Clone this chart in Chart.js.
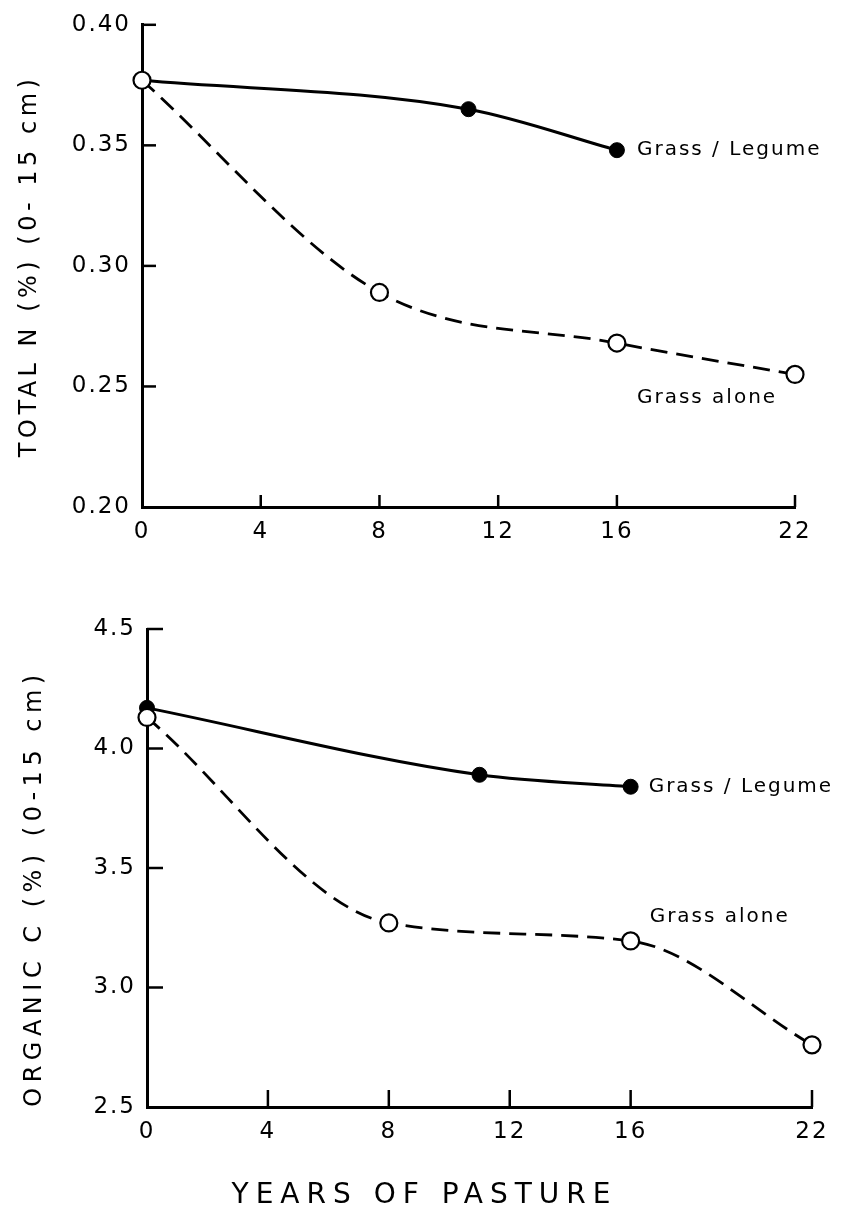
<!DOCTYPE html>
<html lang="en">
<head>
<meta charset="utf-8">
<title>Total N and organic C under pasture</title>
<script src="https://cdn.jsdelivr.net/npm/chart.js@4.4.0/dist/chart.umd.min.js"></script>
<style>
  html, body { margin: 0; padding: 0; background: #fff; }
  .panel { position: absolute; left: 0; width: 843px; }
  #top { top: 0; height: 575px; }
  #bottom { top: 575px; height: 650px; }
</style>
</head>
<body>
<div class="panel" id="top"><canvas id="nChart"></canvas></div>
<div class="panel" id="bottom"><canvas id="cChart"></canvas></div>
<script>
// years of pasture (x axis, both panels)
var xTicks = [0, 4, 8, 12, 16, 22];

// total N (%) in 0-15 cm
var legumeYearsN = [0, 11, 16];
var legumeN = [0.377, 0.365, 0.348];
var aloneYearsN = [0, 8, 16, 22];
var aloneN = [0.377, 0.289, 0.268, 0.255];
var nTicks = [0.20, 0.25, 0.30, 0.35, 0.40];

// organic C (%) in 0-15 cm
var legumeYearsC = [0, 11, 16];
var legumeC = [4.17, 3.89, 3.84];
var aloneYearsC = [0, 8, 16, 22];
var aloneC = [4.13, 3.27, 3.195, 2.76];
var cTicks = [2.5, 3.0, 3.5, 4.0, 4.5];

var aloneName = "Grass alone";
var legumeName = "Grass / Legume";
var xTitle = "YEARS OF PASTURE";
var nTitle = "TOTAL N (%) (0- 15 cm)";
var cTitle = "ORGANIC C (%) (0-15 cm)";

Chart.defaults.font.family = "'DejaVu Sans', sans-serif";
Chart.defaults.font.size = 23;
Chart.defaults.color = "#000";

function pts(xs, ys) {
    return xs.map(function (x, i) { return { x: x, y: ys[i] }; });
}

// inward ticks, rotated axis titles and the curve labels
var paperPlugin = {
    id: "paper",
    beforeDraw: function (chart) {
        chart.ctx.letterSpacing = "2px";
    },
    afterDraw: function (chart, args, opts) {
        var ctx = chart.ctx;
        var area = chart.chartArea;
        var xs = chart.scales.x, ys = chart.scales.y;
        ctx.save();
        ctx.strokeStyle = "#000";
        ctx.lineWidth = 2.5;
        xs.ticks.forEach(function (t, i) {
            if (i === 0) return;
            var px = xs.getPixelForValue(t.value);
            ctx.beginPath();
            ctx.moveTo(px, area.bottom);
            ctx.lineTo(px, area.bottom - opts.tickX);
            ctx.stroke();
        });
        ys.ticks.forEach(function (t, i) {
            if (i === 0) return;
            var py = ys.getPixelForValue(t.value);
            ctx.beginPath();
            ctx.moveTo(area.left, py);
            ctx.lineTo(area.left + opts.tickY, py);
            ctx.stroke();
        });

        ctx.fillStyle = "#000";
        ctx.textAlign = "center";
        ctx.textBaseline = "middle";
        ctx.font = "24px 'DejaVu Sans'";
        ctx.letterSpacing = opts.titleSpacing + "px";
        ctx.save();
        ctx.translate(opts.yTitleX, (area.top + area.bottom) / 2 + opts.yTitleDy);
        ctx.rotate(-Math.PI / 2);
        ctx.fillText(chart.options.scales.y.title.text, 0, 0);
        ctx.restore();
        if (chart.options.scales.x.title.text) {
            ctx.font = "28px 'DejaVu Sans'";
            ctx.letterSpacing = "7px";
            ctx.fillText(chart.options.scales.x.title.text, (area.left + area.right) / 2 + opts.xTitleDx, opts.xTitleY);
        }

        ctx.font = "20px 'DejaVu Sans'";
        ctx.letterSpacing = "2px";
        ctx.textAlign = "left";
        opts.labels.forEach(function (l) {
            var p = chart.getDatasetMeta(l.dataset).data[l.index];
            ctx.fillText(chart.data.datasets[l.dataset].label, p.x + l.dx, p.y + l.dy);
        });
        ctx.restore();
        ctx.letterSpacing = "0px";
    }
};

function makePanel(id, aloneData, legumeData, yTicks, digits, yTitle, xTitleText, box, paper) {
    return new Chart(document.getElementById(id), {
        type: "line",
        data: {
            datasets: [{
                label: aloneName,
                data: aloneData,
                borderColor: "#000",
                borderWidth: 2.8,
                borderDash: [17, 9],
                cubicInterpolationMode: "monotone",
                pointRadius: 8.5,
                pointBackgroundColor: "#fff",
                pointBorderColor: "#000",
                pointBorderWidth: 2.2,
                clip: false
            }, {
                label: legumeName,
                data: legumeData,
                borderColor: "#000",
                borderWidth: 3,
                cubicInterpolationMode: "monotone",
                pointRadius: 7.5,
                pointBackgroundColor: "#000",
                pointBorderColor: "#000",
                pointBorderWidth: 1,
                clip: false
            }]
        },
        options: {
            responsive: true,
            maintainAspectRatio: false,
            animation: false,
            layout: { padding: { left: 0, top: box.top, right: box.right, bottom: 0 } },
            plugins: {
                legend: { display: false },
                tooltip: { enabled: false },
                paper: paper
            },
            scales: {
                x: {
                    type: "linear",
                    min: 0,
                    max: 22,
                    grid: { display: false, drawTicks: false },
                    border: { display: true, color: "#000", width: 3 },
                    title: { display: false, text: xTitleText },
                    ticks: {
                        padding: 11,
                        callback: function (v) { return String(v); }
                    },
                    afterBuildTicks: function (scale) {
                        scale.ticks = xTicks.map(function (v) { return { value: v }; });
                    },
                    afterFit: function (scale) { scale.height = box.xHeight; }
                },
                y: {
                    min: yTicks[0],
                    max: yTicks[yTicks.length - 1],
                    grid: { display: false, drawTicks: false },
                    border: { display: true, color: "#000", width: 3 },
                    title: { display: false, text: yTitle },
                    ticks: {
                        padding: 11,
                        callback: function (v) { return Number(v).toFixed(digits); }
                    },
                    afterBuildTicks: function (scale) {
                        scale.ticks = yTicks.map(function (v) { return { value: v }; });
                    },
                    afterFit: function (scale) { scale.width = box.left; }
                }
            }
        },
        plugins: [paperPlugin]
    });
}

makePanel("nChart", pts(aloneYearsN, aloneN), pts(legumeYearsN, legumeN), nTicks, 2, nTitle, "",
    { top: 22, right: 48, left: 142, xHeight: 68 },
    {
        tickX: 12, tickY: 14, titleSpacing: 4.5, yTitleX: 30, yTitleDy: 0,
        labels: [
            { dataset: 1, index: 2, dx: 20, dy: 0 },
            { dataset: 0, index: 2, dx: 20, dy: 55 }
        ]
    });

makePanel("cChart", pts(aloneYearsC, aloneC), pts(legumeYearsC, legumeC), cTicks, 1, cTitle, xTitle,
    { top: 54, right: 31, left: 147, xHeight: 118 },
    {
        tickX: 17, tickY: 16, titleSpacing: 5.5, yTitleX: 35, yTitleDy: 20,
        xTitleDx: -55, xTitleY: 621,
        labels: [
            { dataset: 1, index: 2, dx: 18, dy: 0 },
            { dataset: 0, index: 2, dx: 19, dy: -24 }
        ]
    });
</script>
</body>
</html>
